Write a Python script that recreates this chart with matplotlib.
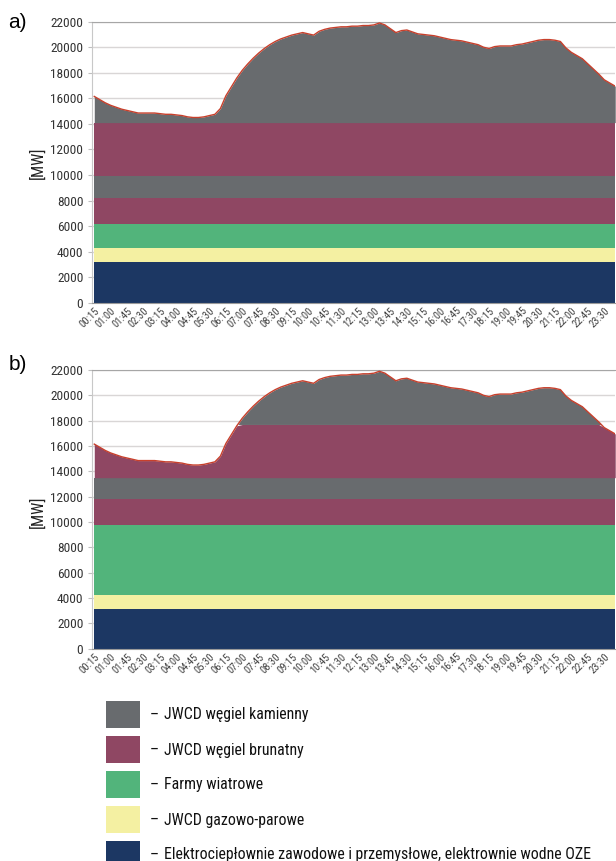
import numpy as np
import matplotlib
matplotlib.use("Agg")
import matplotlib.pyplot as plt
from matplotlib.patches import Rectangle
from matplotlib import font_manager as fm

# ---- data -------------------------------------------------------------
tick_labels = ['00:15', '01:00', '01:45', '02:30', '03:15', '04:00', '04:45', '05:30',
               '06:15', '07:00', '07:45', '08:30', '09:15', '10:00', '10:45', '11:30',
               '12:15', '13:00', '13:45', '14:30', '15:15', '16:00', '16:45', '17:30',
               '18:15', '19:00', '19:45', '20:30', '21:15', '22:00', '22:45', '23:30']

# total demand (MW), 15-minute resolution 00:15 .. 24:00
total = [16150, 15900, 15650, 15450, 15300, 15150, 15050, 14950, 14850, 14850,
         14850, 14850, 14800, 14750, 14750, 14700, 14650, 14550, 14500, 14500,
         14550, 14650, 14750, 15200, 16200, 16900, 17600, 18200, 18700, 19150,
         19550, 19900, 20200, 20450, 20650, 20800, 20950, 21050, 21150, 21050,
         20950, 21250, 21400, 21500, 21550, 21600, 21600, 21650, 21650, 21700,
         21700, 21750, 21900, 21750, 21450, 21150, 21300, 21350, 21200, 21050,
         21000, 20950, 20900, 20800, 20700, 20600, 20550, 20500, 20400, 20300,
         20200, 20000, 19900, 20050, 20100, 20100, 20100, 20200, 20250, 20350,
         20450, 20550, 20600, 20600, 20550, 20450, 19950, 19600, 19350, 19100,
         18700, 18300, 17900, 17450, 17200, 16950]

# constant band widths (MW), bottom to top
a_elektro, a_gaz, a_wiatr, a_brun1, a_kam1, a_brun2 = 3150, 1100, 1950, 2000, 1700, 4200
b_elektro, b_gaz, b_wiatr, b_brun1, b_kam1, b_brun2 = 3150, 1050, 5600, 2000, 1700, 4200

legend_labels = ['JWCD węgiel kamienny', 'JWCD węgiel brunatny', 'Farmy wiatrowe',
                 'JWCD gazowo-parowe',
                 'Elektrociepłownie zawodowe i przemysłowe, elektrownie wodne OZE']

# ---- fonts --------------------------------------------------------------
narrow_file = None
for pref in ['Liberation Sans Narrow', 'DejaVu Sans Condensed', 'Roboto Condensed',
             'Open Sans Condensed', 'Noto Sans Condensed']:
    for f in fm.fontManager.ttflist:
        if f.name == pref and f.weight in (400, 'normal', 'regular') and f.style == 'normal':
            narrow_file = f.fname
            break
    if narrow_file:
        break
if narrow_file is None:
    for f in fm.fontManager.ttflist:
        if (('Narrow' in f.name or 'Condensed' in f.name or 'condensed' in str(f.stretch))
                and f.style == 'normal' and f.weight in (400, 'normal', 'regular')):
            narrow_file = f.fname
            break

plt.rcParams['font.family'] = ['Liberation Sans', 'DejaVu Sans']


def fp(size):
    if narrow_file:
        return fm.FontProperties(fname=narrow_file, size=size)
    return fm.FontProperties(family=['Liberation Sans', 'DejaVu Sans'], size=size * 0.86)


# ---- style ------------------------------------------------------------
C_KAM = '#686b6e'
C_BRUN = '#8f4763'
C_WIATR = '#52b47b'
C_GAZ = '#f4f0a2'
C_ELEK = '#1c3763'
C_LINE = '#c8402c'
legend_colors = [C_KAM, C_BRUN, C_WIATR, C_GAZ, C_ELEK]

W, H = 616, 861
fig = plt.figure(figsize=(W / 100, H / 100), dpi=100)

x = np.arange(len(total))
tot = np.array(total, dtype=float)


def draw(ax, bands, colors):
    n = len(x)
    ys = [np.full(n, b, dtype=float) for b in bands]
    ax.stackplot(x, *ys, colors=colors, linewidth=0, zorder=2)
    return float(sum(bands))


def style(ax, label_y):
    ax.set_xlim(-0.47, 95.05)
    ax.set_ylim(0, 22000)
    ax.set_yticks(np.arange(0, 22001, 2000))
    ax.set_yticklabels([str(v) for v in range(0, 22001, 2000)])
    ax.set_xticks(x[::3])
    ax.set_xticklabels(tick_labels, rotation=45, ha='right', rotation_mode='anchor',
                       color='#404040')
    for t in ax.get_xticklabels():
        t.set_fontproperties(fp(7.6))
    for t in ax.get_yticklabels():
        t.set_fontproperties(fp(9.6))
        t.set_color('#333333')
    ax.tick_params(axis='x', length=0, pad=2)
    ax.tick_params(axis='y', length=3, color='#bfbfbf', pad=3)
    ax.grid(axis='y', color='#d9d6d6', linewidth=1.0, zorder=0)
    ax.set_axisbelow(True)
    ax.spines['right'].set_visible(False)
    ax.spines['top'].set_color('#a6a6a6')
    ax.spines['left'].set_color('#c8c8c8')
    ax.spines['bottom'].set_color('#9a9a9a')
    ax.set_ylabel('[MW]', fontproperties=fp(11.5), color='#222222')
    ax.yaxis.set_label_coords(-0.088, label_y)


# panel a
axa = fig.add_axes([91.7 / W, 1 - 302.7 / H, (615.5 - 91.7) / W, (302.7 - 21.7) / H])
base_a = draw(axa, [a_elektro, a_gaz, a_wiatr, a_brun1, a_kam1, a_brun2],
              [C_ELEK, C_GAZ, C_WIATR, C_BRUN, C_KAM, C_BRUN])
axa.fill_between(x, base_a, tot, color=C_KAM, linewidth=0, zorder=2)
axa.plot(x, tot, color=C_LINE, linewidth=1.0, zorder=3)
style(axa, 0.497)

# panel b
axb = fig.add_axes([91.7 / W, 1 - 648.7 / H, (615.5 - 91.7) / W, (648.7 - 370.0) / H])
base_b = draw(axb, [b_elektro, b_gaz, b_wiatr, b_brun1, b_kam1],
              [C_ELEK, C_GAZ, C_WIATR, C_BRUN, C_KAM])
top_b = base_b + b_brun2
axb.fill_between(x, base_b, np.minimum(tot, top_b), color=C_BRUN, linewidth=0, zorder=2)
axb.fill_between(x, top_b, tot, where=tot > top_b, interpolate=True,
                 color=C_KAM, linewidth=0, zorder=2)
axb.plot(x, tot, color=C_LINE, linewidth=1.0, zorder=3)
style(axb, 0.49)

fig.text(8 / W, 1 - 23 / H, 'a)', fontsize=15, va='center', ha='left')
fig.text(9 / W, 1 - 364 / H, 'b)', fontsize=15, va='center', ha='left')

# legend
for k, (lab, col) in enumerate(zip(legend_labels, legend_colors)):
    y0 = 701 + k * 35
    fig.patches.append(Rectangle((106 / W, 1 - (y0 + 27) / H), 34 / W, 27 / H,
                                 transform=fig.transFigure, facecolor=col,
                                 edgecolor='none'))
    fig.text(150 / W, 1 - (y0 + 14) / H, '–', fontproperties=fp(11.4),
             va='center', ha='left', color='#111111')
    fig.text(164 / W, 1 - (y0 + 14) / H, lab, fontproperties=fp(11.4),
             va='center', ha='left', color='#111111')

fig.savefig('out.png', dpi=100)
